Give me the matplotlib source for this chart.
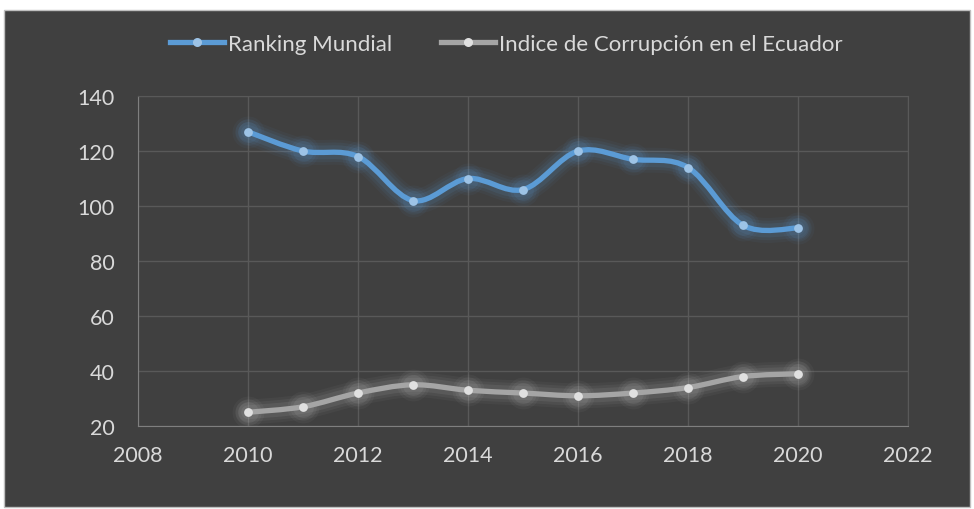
import numpy as np
import matplotlib.pyplot as plt
from matplotlib.path import Path
from matplotlib.patches import PathPatch, Rectangle

years = [2010, 2011, 2012, 2013, 2014, 2015, 2016, 2017, 2018, 2019, 2020]
ranking = [127, 120, 118, 102, 110, 106, 120, 117, 114, 93, 92]
corrupcion = [25, 27, 32, 35, 33, 32, 31, 32, 34, 38, 39]
labels = ['Ranking Mundial', 'Indice de Corrupción en el Ecuador']

plt.rcParams['font.family'] = ['Lato', 'DejaVu Sans']

BG = '#404040'
GRID = '#595959'
TXT = '#d9d9d9'


def smooth_path(x, y):
    # Excel-style smoothed line: cubic bezier segments (Catmull-Rom control points)
    x = np.asarray(x, float)
    y = np.asarray(y, float)
    n = len(x)
    verts = [(x[0], y[0])]
    codes = [Path.MOVETO]
    for i in range(n - 1):
        p0 = (x[i - 1], y[i - 1]) if i > 0 else (x[i], y[i])
        p1 = (x[i], y[i])
        p2 = (x[i + 1], y[i + 1])
        p3 = (x[i + 2], y[i + 2]) if i + 2 < n else p2
        c1 = (p1[0] + (p2[0] - p0[0]) / 6, p1[1] + (p2[1] - p0[1]) / 6)
        c2 = (p2[0] - (p3[0] - p1[0]) / 6, p2[1] - (p3[1] - p1[1]) / 6)
        verts += [c1, c2, p2]
        codes += [Path.CURVE4] * 3
    return Path(verts, codes)


fig = plt.figure(figsize=(9.74, 5.1), dpi=100)
fig.patch.set_facecolor('white')
fig.patches.append(Rectangle((0.004, 0.004), 0.992, 0.974, transform=fig.transFigure,
                             facecolor=BG, edgecolor='#bfbfbf', linewidth=1, zorder=-10))

ax = fig.add_axes([0.1417, 0.1627, 0.7906, 0.647])
ax.set_facecolor(BG)

series = [
    (ranking, '#5b9bd5', '#9dc3e6', '#5b9bd5'),
    (corrupcion, '#a5a5a5', '#e0e0e0', '#bfbfbf'),
]

for vals, col, mcol, glow in series:
    path = smooth_path(years, vals)
    # glow
    for lw, a in [(18, 0.05), (14, 0.07), (10, 0.1)]:
        ax.add_patch(PathPatch(path, facecolor='none', edgecolor=glow, lw=lw, alpha=a,
                               capstyle='round', joinstyle='round', zorder=2))
        ax.scatter(years, vals, s=(lw + 5) ** 2, color=glow, alpha=a, linewidths=0, zorder=2)
    ax.add_patch(PathPatch(path, facecolor='none', edgecolor=col, lw=3.8,
                           capstyle='round', zorder=3))
    ax.scatter(years, vals, s=40, color=mcol, linewidths=0, zorder=4)

ax.set_xlim(2008, 2022)
ax.set_ylim(20, 140)
ax.set_xticks(range(2008, 2023, 2))
ax.set_yticks(range(20, 141, 20))
ax.grid(True, color=GRID, linewidth=1)
ax.set_axisbelow(True)
for s in ax.spines.values():
    s.set_color(GRID)
ax.spines['left'].set_color('#7f7f7f')
ax.spines['bottom'].set_color('#7f7f7f')
ax.tick_params(colors=TXT, labelsize=15.5, length=0, pad=14)
ax.tick_params(axis='y', pad=17)

handles = []
for vals, col, mcol, glow in series:
    h, = ax.plot([], [], color=col, lw=3.8, marker='o', markersize=6.5,
                 markerfacecolor=mcol, markeredgewidth=0)
    handles.append(h)
fig.legend(handles, labels, loc='center', bbox_to_anchor=(0.52, 0.912), ncol=2,
           frameon=False, fontsize=16, labelcolor=TXT, handlelength=2.4,
           handletextpad=0.2, columnspacing=2.2)

fig.savefig('out.png', dpi=100, facecolor='white')
